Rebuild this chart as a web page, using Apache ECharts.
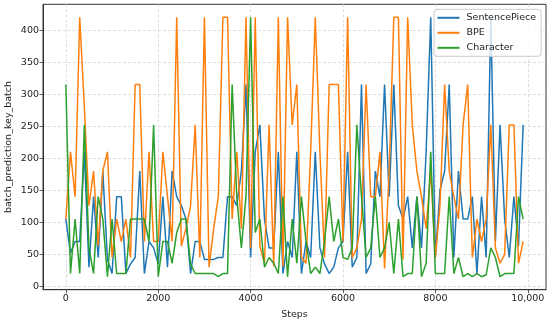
<!DOCTYPE html>
<html>
<head>
<meta charset="utf-8">
<script src="https://cdn.jsdelivr.net/npm/echarts@6/dist/echarts.min.js"></script>
<style>html,body{margin:0;padding:0;background:#fff}#c{width:550px;height:324px}</style>
</head>
<body>
<div id="c"></div>
<script>
const steps = [0,100,200,300,400,500,600,700,800,900,1000,1100,1200,1300,1400,1500,1600,1700,1800,1900,2000,2100,2200,2300,2400,2500,2600,2700,2800,2900,3000,3100,3200,3300,3400,3500,3600,3700,3800,3900,4000,4100,4200,4300,4400,4500,4600,4700,4800,4900,5000,5100,5200,5300,5400,5500,5600,5700,5800,5900,6000,6100,6200,6300,6400,6500,6600,6700,6800,6900,7000,7100,7200,7300,7400,7500,7600,7700,7800,7900,8000,8100,8200,8300,8400,8500,8600,8700,8800,8900,9000,9100,9200,9300,9400,9500,9600,9700,9800,9900];
const sentencePiece = [105,52,70,70,210,30,140,45,180,42, 20,140,140,20,35,45,180,20,70,60, 35,140,30,180,140,126,105,20,70,70, 42,42,42,45,45,140,140,126,180,315, 45,210,252,105,60,60,210,20,70,45, 210,20,70,45,210,60,35,20,30,60, 70,210,30,45,315,20,35,180,140,315, 140,315,126,105,140,60,140,60,210,420, 45,150,180,315,45,180,105,105,140,20, 140,45,420,70,252,105,45,140,63,252];
const bpe = [105,210,140,420,280,126,180,63,180,210, 45,105,70,105,45,315,315,70,210,70, 70,210,140,70,420,63,90,126,252,45, 420,30,90,140,420,420,105,210,90,420, 60,420,63,36,252,31,420,31,420,252, 315,45,36,210,420,210,45,315,315,315, 70,420,45,60,105,315,140,140,210,28, 180,420,420,42,420,252,180,140,90,180, 45,126,315,180,140,105,252,315,45,105, 70,105,252,60,36,50,252,252,36,70];
const character = [315,20,105,20,252,60,20,140,105,15, 105,20,20,20,105,105,105,105,70,252, 15,70,70,36,84,105,105,35,20,20, 20,20,20,15,20,20,315,140,60,140, 420,84,105,30,45,36,20,140,15,105, 36,140,70,20,30,20,70,140,70,105, 45,42,60,252,140,45,60,140,45,60, 100,20,105,15,20,20,140,15,36,210, 20,20,20,140,20,45,15,20,15,20, 15,18,60,45,15,20,20,20,140,105];
const xTicks = [0,2000,4000,6000,8000,10000];
const yTicks = [0,50,100,150,200,250,300,350,400];
const seriesNames = ['SentencePiece','BPE','Character'];
const colors = ['#1f77b4','#ff7f0e','#2ca02c'];

const font = 'DejaVu Sans';
const pair = arr => steps.map((s,i)=>[s,arr[i]]);
const chart = echarts.init(document.getElementById('c'), null, {renderer:'canvas'});
const gridLine = {show:true, lineStyle:{color:'#d6d6d6', width:0.8, type:[3,2]}};
chart.setOption({
  animation:false,
  backgroundColor:'#ffffff',
  grid:{left:43, right:4, top:4.3, bottom:34.3, show:true, borderColor:'#333', borderWidth:1, backgroundColor:'transparent', containLabel:false, outerBoundsMode:'none'},
  legend:{
    data:seriesNames, orient:'vertical', left:434, top:9.3,
    padding:[3,5,3,3.5], itemGap:4, itemWidth:22, itemHeight:2, icon:'rect',
    backgroundColor:'rgba(255,255,255,0.8)', borderColor:'#cccccc', borderWidth:1, borderRadius:3,
    selectedMode:false,
    textStyle:{fontFamily:font, fontSize:9.5, color:'#222', lineHeight:11, padding:[0,0,0,2]}
  },
  xAxis:{
    type:'value', min:-495, max:10395,
    name:'Steps', nameLocation:'middle', nameGap:19.5, nameMoveOverlap:false,
    nameTextStyle:{fontFamily:font, fontSize:9.5, color:'#222'},
    axisLine:{show:true, onZero:false, lineStyle:{color:'#333', width:1}},
    axisTick:{show:true, length:3.5, lineStyle:{color:'#333', width:0.8}, customValues:xTicks},
    axisLabel:{fontFamily:font, fontSize:9.5, color:'#222', margin:4, customValues:xTicks,
      formatter:v => v===10000 ? '10,000' : String(v)},
    splitLine:gridLine
  },
  yAxis:{
    type:'value', min:-5.25, max:440.25,
    name:'batch_prediction_key_batch', nameLocation:'middle', nameGap:29, nameRotate:90, nameMoveOverlap:false,
    nameTextStyle:{fontFamily:font, fontSize:9.5, color:'#222'},
    axisLine:{show:true, onZero:false, lineStyle:{color:'#333', width:1}},
    axisTick:{show:true, length:3.5, lineStyle:{color:'#333', width:0.8}, customValues:yTicks},
    axisLabel:{fontFamily:font, fontSize:9.5, color:'#222', margin:4, customValues:yTicks},
    splitLine:gridLine
  },
  series:[
    {name:seriesNames[0], type:'line', data:pair(sentencePiece), showSymbol:false, symbol:'none', color:colors[0], lineStyle:{width:1.5, color:colors[0]}, z:2},
    {name:seriesNames[1], type:'line', data:pair(bpe), showSymbol:false, symbol:'none', color:colors[1], lineStyle:{width:1.5, color:colors[1]}, z:3},
    {name:seriesNames[2], type:'line', data:pair(character), showSymbol:false, symbol:'none', color:colors[2], lineStyle:{width:1.5, color:colors[2]}, z:4}
  ]
});
</script>
</body>
</html>
